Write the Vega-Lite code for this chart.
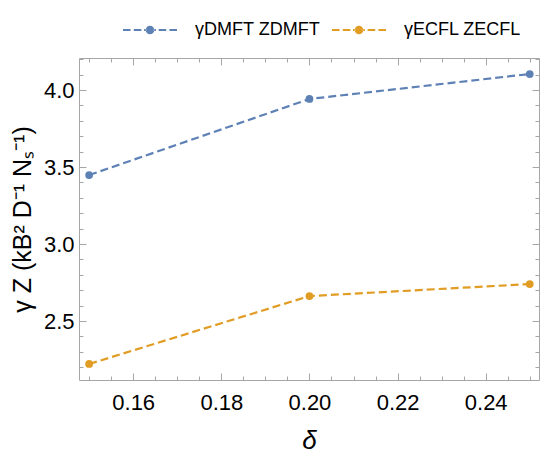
{
  "$schema": "https://vega.github.io/schema/vega-lite/v6.json",
  "width": 460,
  "height": 322,
  "autosize": {"type": "none"},
  "padding": {"left": 79, "top": 58, "right": 3, "bottom": 81},
  "background": "white",
  "config": {
    "view": {"stroke": null},
    "font": "Liberation Sans",
    "axis": {
      "domainColor": "#a6a6a6",
      "tickColor": "#a6a6a6",
      "labelColor": "black",
      "labelFont": "Liberation Sans",
      "labelFontSize": 22,
      "titleFont": "Liberation Sans",
      "titleColor": "black",
      "titleFontWeight": "normal",
      "grid": false
    }
  },
  "data": {
    "values": [
      {"delta": 0.15, "gz": 3.448, "series": "γDMFT ZDMFT"},
      {"delta": 0.20, "gz": 3.942, "series": "γDMFT ZDMFT"},
      {"delta": 0.25, "gz": 4.104, "series": "γDMFT ZDMFT"},
      {"delta": 0.15, "gz": 2.221, "series": "γECFL ZECFL"},
      {"delta": 0.20, "gz": 2.662, "series": "γECFL ZECFL"},
      {"delta": 0.25, "gz": 2.740, "series": "γECFL ZECFL"}
    ]
  },
  "resolve": {"axis": {"x": "independent", "y": "independent"}, "legend": {"color": "independent"}},
  "layer": [
    {
      "mark": {"type": "line", "strokeWidth": 2.2, "strokeDash": [8, 4]},
      "encoding": {
        "x": {
          "field": "delta", "type": "quantitative",
          "scale": {"domain": [0.1477, 0.2521], "nice": false, "zero": false},
          "axis": {
            "orient": "bottom",
            "title": "δ",
            "titleFontStyle": "italic",
            "titleFontSize": 26,
            "titlePadding": 14,
            "values": [0.15, 0.155, 0.16, 0.165, 0.17, 0.175, 0.18, 0.185, 0.19, 0.195, 0.2, 0.205, 0.21, 0.215, 0.22, 0.225, 0.23, 0.235, 0.24, 0.245, 0.25],
            "format": ".2f",
            "labelExpr": "abs(datum.value*50 - round(datum.value*50)) < 0.001 ? datum.label : ''",
            "tickSize": {"condition": {"test": "abs(datum.value*50 - round(datum.value*50)) < 0.001", "value": -7}, "value": -4},
            "labelPadding": 19
          }
        },
        "y": {
          "field": "gz", "type": "quantitative",
          "scale": {"domain": [2.117, 4.208], "nice": false, "zero": false},
          "axis": {
            "orient": "left",
            "title": "γ Z (kB² D⁻¹ Nₛ⁻¹)",
            "titleFontSize": 25,
            "titlePadding": 8,
            "values": [2.2, 2.3, 2.4, 2.5, 2.6, 2.7, 2.8, 2.9, 3.0, 3.1, 3.2, 3.3, 3.4, 3.5, 3.6, 3.7, 3.8, 3.9, 4.0, 4.1, 4.2],
            "format": ".1f",
            "labelExpr": "abs(datum.value*2 - round(datum.value*2)) < 0.001 ? datum.label : ''",
            "tickSize": {"condition": {"test": "abs(datum.value*2 - round(datum.value*2)) < 0.001", "value": -7}, "value": -4},
            "labelPadding": 12
          }
        },
        "color": {
          "field": "series", "type": "nominal",
          "scale": {"domain": ["γDMFT ZDMFT", "γECFL ZECFL"], "range": ["#5e81b5", "#e19c24"]},
          "legend": null
        }
      }
    },
    {
      "mark": {"type": "point", "filled": true, "size": 60, "opacity": 1},
      "encoding": {
        "x": {
          "field": "delta", "type": "quantitative",
          "axis": {
            "orient": "top",
            "title": null,
            "labels": false,
            "values": [0.15, 0.155, 0.16, 0.165, 0.17, 0.175, 0.18, 0.185, 0.19, 0.195, 0.2, 0.205, 0.21, 0.215, 0.22, 0.225, 0.23, 0.235, 0.24, 0.245, 0.25],
            "tickSize": {"condition": {"test": "abs(datum.value*50 - round(datum.value*50)) < 0.001", "value": -7}, "value": -4}
          }
        },
        "y": {
          "field": "gz", "type": "quantitative",
          "axis": {
            "orient": "right",
            "title": null,
            "labels": false,
            "values": [2.2, 2.3, 2.4, 2.5, 2.6, 2.7, 2.8, 2.9, 3.0, 3.1, 3.2, 3.3, 3.4, 3.5, 3.6, 3.7, 3.8, 3.9, 4.0, 4.1, 4.2],
            "tickSize": {"condition": {"test": "abs(datum.value*2 - round(datum.value*2)) < 0.001", "value": -7}, "value": -4}
          }
        },
        "color": {
          "field": "series", "type": "nominal",
          "legend": {
            "orient": "none",
            "legendX": 44,
            "legendY": -55,
            "direction": "horizontal",
            "title": null,
            "symbolType": "M-1,-0.04H-0.72V0.04H-1Z M-0.6,-0.04H-0.32V0.04H-0.6Z M-0.22,-0.04H-0.14V0.04H-0.22Z M0.14,-0.04H0.22V0.04H0.14Z M0.32,-0.04H0.6V0.04H0.32Z M0.72,-0.04H1V0.04H0.72Z M-0.16,0A0.16,0.16 0 1,0 0.16,0A0.16,0.16 0 1,0 -0.16,0Z",
            "symbolSize": 2916,
            "symbolStrokeWidth": 0,
            "symbolOpacity": 1,
            "labelFont": "Liberation Sans",
            "labelFontSize": 18,
            "labelColor": "black",
            "labelOffset": 18,
            "columnPadding": 12,
            "labelLimit": 300
          }
        }
      }
    }
  ]
}
